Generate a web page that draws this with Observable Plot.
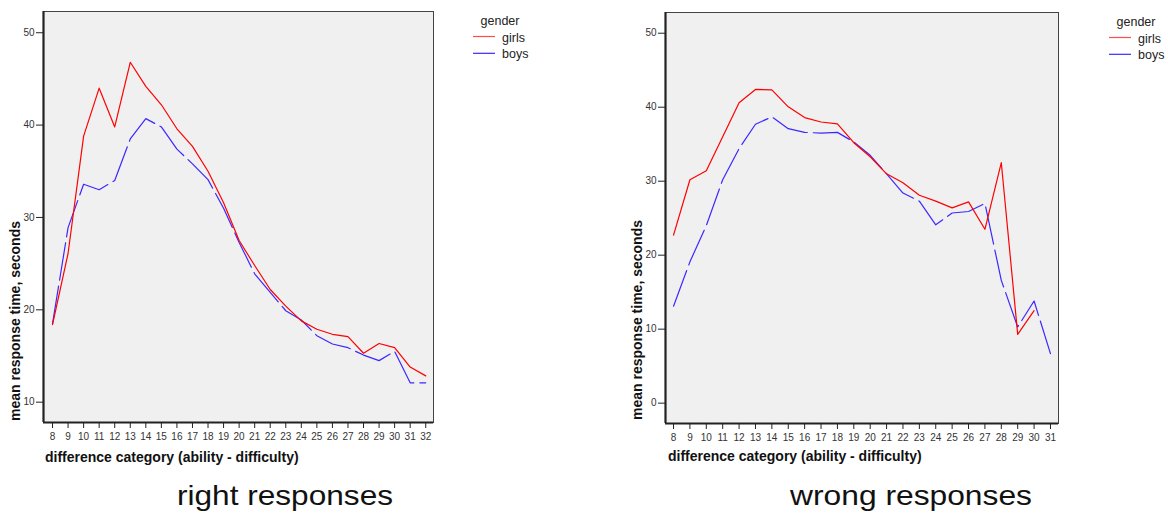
<!DOCTYPE html>
<html><head><meta charset="utf-8">
<script src="https://cdn.jsdelivr.net/npm/d3@7"></script>
<script src="https://cdn.jsdelivr.net/npm/@observablehq/plot@0.6"></script>
<style>
body{margin:0;background:#fff;font-family:"Liberation Sans",Arial,sans-serif;}
#wrap{display:flex;width:1168px;height:513px;overflow:hidden;}
#wrap svg{display:block;}
</style></head><body><div id="wrap"></div>
<script>
// ---- data ----
const rightCats = [8,9,10,11,12,13,14,15,16,17,18,19,20,21,22,23,24,25,26,27,28,29,30,31,32];
const rightGirls = [18.4,26.1,38.8,44.0,39.8,46.8,44.2,42.2,39.6,37.7,35.0,31.6,27.5,24.8,22.2,20.4,18.8,17.9,17.35,17.1,15.3,16.35,15.9,13.8,12.85];
const rightBoys  = [18.5,28.9,33.6,33.0,34.0,38.5,40.7,39.8,37.4,35.8,34.1,31.0,27.3,23.9,21.9,19.9,18.9,17.2,16.3,15.9,15.1,14.5,15.5,12.1,12.1];
const rightYTicks = [10,20,30,40,50];

const wrongCats = [8,9,10,11,12,13,14,15,16,17,18,19,20,21,22,23,24,25,26,27,28,29,30,31];
const wrongGirls = [22.7,30.2,31.4,36.0,40.6,42.4,42.35,40.05,38.6,38.0,37.75,35.2,33.3,31.0,29.8,28.1,27.3,26.4,27.2,23.5,32.5,9.3,12.5];
const wrongBoys  = [13.1,19.1,24.0,30.2,34.4,37.7,38.7,37.1,36.6,36.5,36.6,35.3,33.5,31.0,28.4,27.3,24.1,25.7,25.9,27.0,16.6,10.3,13.8,6.7];
const wrongYTicks = [0,10,20,30,40,50];

const genders = ["girls","boys"];
const yLabel = "mean response time, seconds";
const xLabel = "difference category (ability - difficulty)";
const captions = ["right responses","wrong responses"];

const RED = "#ff0000", BLUE = "#3c28ff";

function rows(cats, vals, g){
  return vals.map((v,i)=>({c:cats[i], v, g})).filter(d=>d.v!=null);
}

function panel(o){
  const girls = rows(o.cats, o.girls, genders[0]);
  const boys = rows(o.cats, o.boys, genders[1]);
  const plot = Plot.plot({
    width: 584, height: 513,
    marginLeft: o.ml, marginRight: o.mr, marginTop: o.mt, marginBottom: o.mb,
    style: {fontFamily: '"Liberation Sans", Arial, sans-serif', fontSize: "9.5px", color: "#222", background: "transparent"},
    x: {type: "linear", domain: o.xDomain},
    y: {type: "linear", domain: o.yDomain},
    marks: [
      Plot.frame({fill: "#f0f0f0", stroke: "#444", strokeWidth: 1}),
      Plot.ruleX([o.xDomain[0]], {stroke: "#222", strokeWidth: 2.2}),
      Plot.ruleY([o.yDomain[0]], {stroke: "#222", strokeWidth: 2.2}),
      Plot.line(boys, {x: "c", y: "v", stroke: BLUE, strokeWidth: 1.2, strokeDasharray: "38,6"}),
      Plot.line(girls, {x: "c", y: "v", stroke: RED, strokeWidth: 1.2}),
      Plot.axisX({ticks: o.cats, tickFormat: d=>String(d), tickSize: 6, tickPadding: 4.5, label: null, fill: "#333", fontSize: 10}),
      Plot.axisY({ticks: o.yTicks, tickFormat: d=>String(d), tickSize: 7, tickPadding: 2, label: null, fill: "#333", fontSize: 10})
    ]
  });
  const svg = d3.select(plot);
  const ff = '"Liberation Sans", Arial, sans-serif';
  // axis labels
  svg.append("text").attr("transform", `translate(${o.yLabX},${o.yLabY}) rotate(-90)`)
    .attr("text-anchor","start").attr("font-size","14px").attr("font-weight","bold")
    .attr("fill","#111").attr("font-family", ff).text(yLabel);
  svg.append("text").attr("x", o.xLabX).attr("y", o.xLabY).attr("text-anchor","start")
    .attr("font-size","14px").attr("font-weight","bold").attr("fill","#111")
    .attr("font-family", ff).text(xLabel);
  // caption
  svg.append("text").attr("x", o.capX).attr("y", 505).attr("text-anchor","middle")
    .attr("font-size","28px").attr("fill","#111").attr("font-family", ff)
    .attr("textLength", o.capLen).attr("lengthAdjust","spacingAndGlyphs").text(o.caption);
  // legend
  const lg = svg.append("g").attr("font-family", ff).attr("font-size","12.5px").attr("fill","#222");
  lg.append("text").attr("x", o.lgX + 27).attr("y", o.lgY).attr("text-anchor","middle").text("gender");
  genders.forEach((g,i)=>{
    const y = o.lgY + 11.5 + i*16.8;
    lg.append("line").attr("x1", o.lgX).attr("x2", o.lgX+22).attr("y1", y).attr("y2", y)
      .attr("stroke", i===0 ? RED : BLUE).attr("stroke-width", 1.2).attr("stroke-opacity", i===0?0.7:1);
    lg.append("text").attr("x", o.lgX+29).attr("y", y+5).attr("text-anchor","start").text(g);
  });
  return plot;
}

const wrap = document.getElementById("wrap");
wrap.appendChild(panel({
  cats: rightCats, girls: rightGirls, boys: rightBoys, yTicks: rightYTicks,
  xDomain: [7.42, 32.5], yDomain: [7.8, 52.3],
  ml: 43, mr: 151, mt: 11, mb: 91,
  yLabX: 19.5, yLabY: 421, xLabX: 45, xLabY: 461.5,
  capX: 285, capLen: 216, caption: captions[0],
  lgX: 473, lgY: 25
}));
wrap.appendChild(panel({
  cats: wrongCats, girls: wrongGirls, boys: wrongBoys, yTicks: wrongYTicks,
  xDomain: [7.51, 31.49], yDomain: [-2.75, 52.8],
  ml: 81, mr: 110, mt: 12, mb: 90,
  yLabX: 57.5, yLabY: 420, xLabX: 84, xLabY: 461,
  capX: 327, capLen: 242, caption: captions[1],
  lgX: 525, lgY: 26
}));
</script></body></html>
